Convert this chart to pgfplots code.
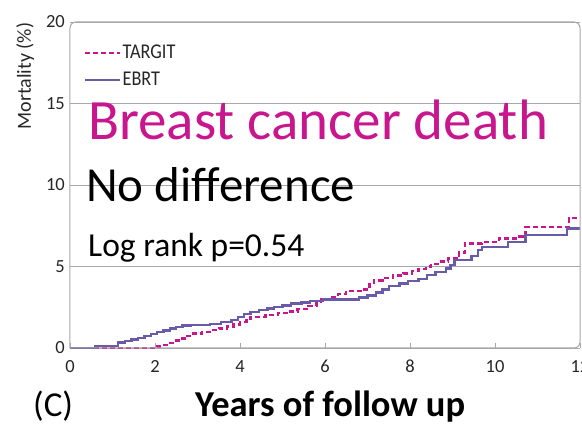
\documentclass[border=0pt]{standalone}
\usepackage{pgfplots}
\pgfplotsset{compat=1.18}
\usepackage{fontspec}
\setmainfont{Carlito}
\definecolor{targit}{HTML}{C8168E}
\definecolor{ebrt}{HTML}{6A5BAA}
\definecolor{boxgray}{HTML}{A8A8A8}
\begin{document}
\begin{tikzpicture}
\path[use as bounding box] (-70pt,-78pt) rectangle (512pt,348pt);
\begin{axis}[
  at={(0pt,0pt)}, anchor=south west,
  scale only axis, width=510pt, height=326pt,
  xmin=0, xmax=12, ymin=0, ymax=20,
  xtick={0,2,4,6,8,10,12}, ytick={0,5,10,15,20},
  axis line style={draw=none},
  tick align=inside, xtick pos=lower,
  x tick style={boxgray, line width=0.8pt}, major tick length=5pt,
  y tick style={draw=none},
  ymajorgrids, grid style={boxgray, line width=0.8pt},
  /pgf/number format/assume math mode=true,
  tick label style={font=\fontsize{18.5}{18.5}\selectfont, text=black!85},
  xticklabel style={inner sep=0pt, anchor=north, yshift=-12pt},
  yticklabel style={inner sep=0pt, anchor=east, xshift=-5pt},
  legend style={draw=none, fill=none, at={(rel axis cs:0,1)}, anchor=north west,
    xshift=14pt, yshift=-22pt, inner sep=0pt, row sep=10pt,
    font=\fontsize{21}{21}\selectfont, nodes={inner sep=1pt, text=black!85}},
  legend cell align=left,
  legend image code/.code={\draw[#1] (0pt,0pt) -- (35pt,0pt);},
  clip=false,
]
\addplot[targit, line width=2.4pt, dash pattern=on 5pt off 3pt, const plot] coordinates {
(0,0) (1.15,0) (2.05,0.1) (2.15,0.2) (2.3,0.32) (2.45,0.45) (2.6,0.58) (2.75,0.72)
(2.9,0.88) (3.1,0.98) (3.3,1.1) (3.5,1.2) (3.7,1.32) (3.85,1.45) (4.0,1.6) (4.15,1.8)
(4.25,1.92) (4.6,2.02) (4.9,2.15) (5.1,2.25) (5.35,2.4) (5.6,2.58) (5.8,2.85) (5.9,3.02)
(6.1,3.12) (6.3,3.3) (6.5,3.5) (6.85,3.6) (7.05,3.9) (7.15,4.15) (7.35,4.3) (7.6,4.45)
(7.85,4.58) (8.05,4.72) (8.2,4.85) (8.37,5.0) (8.5,5.15) (8.65,5.3) (8.9,5.48) (9.15,5.85)
(9.3,6.42) (9.7,6.52) (10.09,6.73) (10.56,6.83) (10.72,7.44) (11.74,7.96) (12,7.96)
};
\addplot[ebrt, line width=2.4pt, const plot] coordinates {
(0,0) (0.6,0.13) (1.13,0.33) (1.3,0.42) (1.45,0.52) (1.6,0.62) (1.75,0.72) (1.9,0.85)
(2.05,0.98) (2.2,1.08) (2.35,1.2) (2.5,1.3) (2.65,1.38) (2.85,1.42) (3.3,1.48) (3.55,1.58)
(3.8,1.72) (3.95,1.9) (4.1,2.1) (4.25,2.2) (4.45,2.32) (4.65,2.42) (4.8,2.52) (5.0,2.6)
(5.2,2.72) (5.45,2.8) (5.65,2.88) (5.95,2.97) (6.8,3.1) (7.0,3.22) (7.2,3.4) (7.35,3.6)
(7.5,3.8) (7.75,3.95) (7.95,4.1) (8.2,4.25) (8.4,4.48) (8.6,4.65) (8.85,4.88) (8.95,5.1)
(9.05,5.4) (9.45,5.65) (9.6,6.0) (9.7,6.18) (10.3,6.52) (10.72,6.93) (11.7,7.34) (12,7.34)
};
\legend{\scalebox{0.87}[1]{TARGIT}, \scalebox{0.87}[1]{EBRT}}
\end{axis}
\draw[boxgray, line width=1pt, rounded corners=6pt] (0pt,0pt) -- (0pt,326pt) -- (510pt,326pt) -- (510pt,0pt) -- (0pt,0pt);
\node[anchor=base west, inner sep=0pt, text=targit, font=\fontsize{57}{57}\selectfont] at (18pt,208pt) {Breast cancer death};
\node[anchor=base west, inner sep=0pt, font=\fontsize{49}{49}\selectfont] at (16pt,146.3pt) {No difference};
\node[anchor=base west, inner sep=0pt, font=\fontsize{33.5}{33.5}\selectfont] at (18pt,91.3pt) {Log rank p=0.54};
\node[anchor=base, inner sep=0pt, rotate=90, font=\fontsize{20}{20}\selectfont, text=black!85] at (-39pt,272pt) {Mortality (\%)};
\node[anchor=base west, inner sep=0pt, font=\fontsize{35}{35}\selectfont] at (-37pt,-69pt) {(C)};
\node[anchor=base west, inner sep=0pt, font=\bfseries\fontsize{36.5}{36.5}\selectfont] at (125pt,-68pt) {Years of follow up};
\end{tikzpicture}
\end{document}
